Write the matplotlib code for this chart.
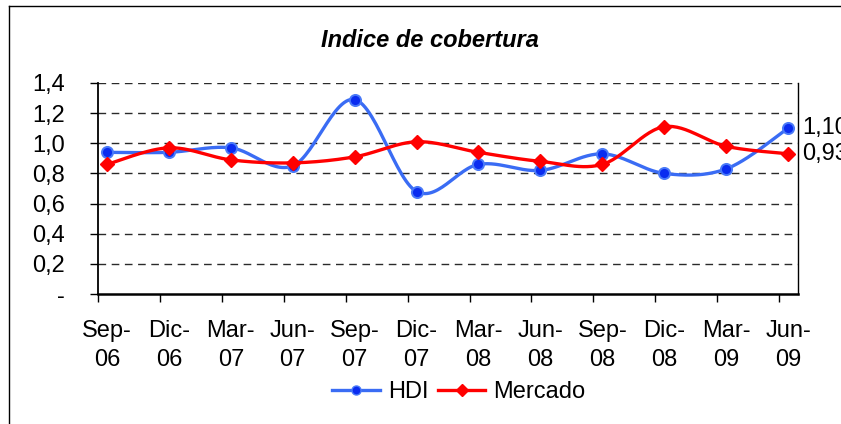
import numpy as np
import matplotlib
matplotlib.use("Agg")
import matplotlib.pyplot as plt
from matplotlib.lines import Line2D

plt.rcParams['font.family'] = ['Liberation Sans', 'DejaVu Sans']

categories = ["Sep-\n06", "Dic-\n06", "Mar-\n07", "Jun-\n07", "Sep-\n07", "Dic-\n07",
              "Mar-\n08", "Jun-\n08", "Sep-\n08", "Dic-\n08", "Mar-\n09", "Jun-\n09"]
hdi = [0.94, 0.94, 0.97, 0.85, 1.29, 0.68, 0.86, 0.82, 0.93, 0.80, 0.83, 1.10]
mercado = [0.86, 0.97, 0.89, 0.87, 0.91, 1.01, 0.94, 0.88, 0.86, 1.11, 0.98, 0.93]
yticks = [0, 0.2, 0.4, 0.6, 0.8, 1.0, 1.2, 1.4]
ytick_labels = ["-", "0,2", "0,4", "0,6", "0,8", "1,0", "1,2", "1,4"]
title = "Indice de cobertura"
series_names = ["HDI", "Mercado"]


def smooth(x, y, n=30):
    # Excel-style smoothing: cubic Bezier with Catmull-Rom control points
    x = np.asarray(x, float)
    y = np.asarray(y, float)
    P = np.column_stack([x, y])
    out = []
    for i in range(len(P) - 1):
        p0 = P[i - 1] if i > 0 else P[i]
        p1 = P[i]
        p2 = P[i + 1]
        p3 = P[i + 2] if i + 2 < len(P) else P[i + 1]
        c1 = p1 + (p2 - p0) / 6.0
        c2 = p2 - (p3 - p1) / 6.0
        t = np.linspace(0, 1, n)[:, None]
        seg = ((1 - t) ** 3) * p1 + 3 * ((1 - t) ** 2) * t * c1 + 3 * (1 - t) * t ** 2 * c2 + t ** 3 * p2
        if i > 0:
            seg = seg[1:]
        out.append(seg)
    out = np.vstack(out)
    return out[:, 0], out[:, 1]


W, H = 841, 424
FS = 17
fig = plt.figure(figsize=(W / 100, H / 100), dpi=100)
fig.patch.set_facecolor("white")

left, right, top, bottom = 98, 798, 83, 294
ax = fig.add_axes([left / W, 1 - bottom / H, (right - left) / W, (bottom - top) / H])

x = np.arange(len(categories))
off = 0.145

ax.set_xlim(-off, 11.16)
ax.set_ylim(0, 1.4)

# grid lines
for v in yticks[1:]:
    ax.axhline(v, color="#2a2a2a", lw=1.0, dashes=(5.5, 4), zorder=1)

hx, hy = smooth(x, hdi)
mx, my = smooth(x, mercado)
blue_line = "#3a6cf4"
ax.plot(hx, hy, color=blue_line, lw=2.4, zorder=3, solid_capstyle="round")
ax.plot(x, hdi, linestyle="none", marker="o", ms=8, mfc="#0a2cf0", mec="#4a7af8", mew=1.4, zorder=4)
ax.plot(mx, my, color="#ff0000", lw=2.4, zorder=5, solid_capstyle="round")
ax.plot(x, mercado, linestyle="none", marker="D", ms=7, mfc="#ff0000", mec="#ff0000", zorder=6)

# end labels
for vals in (hdi, mercado):
    ax.annotate(f"{vals[-1]:.2f}".replace(".", ","), xy=(x[-1], vals[-1]),
                xytext=(10, 0), textcoords="offset points", va="center", ha="left",
                fontsize=FS, annotation_clip=False, clip_on=False)

# axes styling
ax.spines["top"].set_visible(False)
ax.spines["right"].set_color("black")
ax.spines["right"].set_linewidth(1.0)
ax.spines["left"].set_linewidth(1.3)
ax.spines["bottom"].set_linewidth(1.8)

ax.set_yticks(yticks)
ax.set_yticklabels(ytick_labels, fontsize=FS)
ax.tick_params(axis="y", length=5.8, width=1.0, direction="out", pad=18)

ax.set_xticks(x)
ax.set_xticklabels(categories, fontsize=FS, linespacing=1.4)
ax.tick_params(axis="x", which="major", length=0, pad=19)
ax.set_xticks(x - off, minor=True)
ax.tick_params(axis="x", which="minor", length=5.8, width=1.0, direction="out")

# title
fig.text(430 / W, 1 - 47 / H, title, ha="center", va="baseline", fontsize=FS,
         fontweight="bold", fontstyle="italic")

# legend
handles = [
    Line2D([], [], color=blue_line, lw=2.4, marker="o", ms=6.5, mfc="#0a2cf0", mec="#4a7af8"),
    Line2D([], [], color="#ff0000", lw=2.4, marker="D", ms=6.5, mfc="#ff0000", mec="#ff0000"),
]
fig.legend(handles, series_names, loc="center", bbox_to_anchor=(459 / W, 1 - 392 / H),
           ncol=2, frameon=False, fontsize=FS, handlelength=2.0, handletextpad=0.35,
           columnspacing=0.4, borderpad=0, borderaxespad=0)

# outer border (left and top only visible)
fig.add_artist(Line2D([9 / W, 9 / W], [0, 1 - 6 / H], transform=fig.transFigure, color="black", lw=1.0))
fig.add_artist(Line2D([9 / W, 1], [1 - 6 / H, 1 - 6 / H], transform=fig.transFigure, color="black", lw=1.0))

fig.savefig("out.png", dpi=100)
